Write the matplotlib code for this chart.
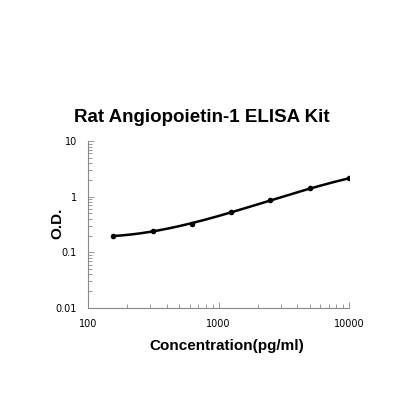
import matplotlib
matplotlib.use("Agg")
import matplotlib.pyplot as plt
import numpy as np

# standard curve
conc = [156.25, 312.5, 625, 1250, 2500, 5000, 10000]
od = [0.194, 0.245, 0.327, 0.52, 0.86, 1.41, 2.13]

fig = plt.figure(figsize=(4.2, 4.2), dpi=100)
ax = fig.add_axes([0.2095, 0.267, 0.6215, 0.397])

# smooth line through the points (in log space)
lx = np.log10(conc)
ly = np.log10(od)
xs = np.linspace(lx[0], lx[-1], 200)
coef = np.polyfit(lx, ly, 3)
ax.plot(10 ** xs, 10 ** np.polyval(coef, xs), color="black", lw=1.8)
ax.plot(conc, od, "o", color="black", ms=3)

ax.set_xscale("log")
ax.set_yscale("log")
ax.set_xlim(100, 10000)
ax.set_ylim(0.01, 10)
ax.set_xticks([100, 1000, 10000])
ax.set_xticklabels(["100", "1000", "10000"])
ax.set_yticks([0.01, 0.1, 1, 10])
ax.set_yticklabels(["0.01", "0.1", "1", "10"])

for s in ["top", "right"]:
    ax.spines[s].set_visible(False)
for s in ["left", "bottom"]:
    ax.spines[s].set_color("#888888")
    ax.spines[s].set_linewidth(0.8)
ax.tick_params(which="both", direction="in", colors="#888888", labelcolor="black", labelsize=7)
ax.tick_params(which="major", length=4, width=0.6, pad=8)
ax.tick_params(which="minor", length=3, width=0.6)

fig.text(202 / 420, 1 - 118 / 420, "Rat Angiopoietin-1 ELISA Kit", fontsize=13.5,
         fontweight="bold", family="Liberation Sans", ha="center", va="center")
fig.text(227 / 420, 1 - 346 / 420, "Concentration(pg/ml)", fontsize=11,
         fontweight="bold", family="Liberation Sans", ha="center", va="center")
fig.text(57 / 420, 1 - 223 / 420, "O.D.", fontsize=11, fontweight="bold",
         family="Liberation Sans", rotation=90, ha="center", va="center")

fig.savefig("out.png", dpi=100)
